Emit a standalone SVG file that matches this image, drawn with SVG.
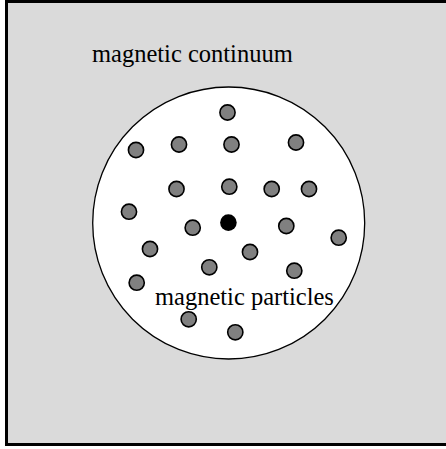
<svg xmlns="http://www.w3.org/2000/svg" width="446" height="449" viewBox="0 0 446 449">
<style>
.p{fill:#808080;stroke:#000;stroke-width:1.6}
.t{font-family:"Liberation Serif","Times New Roman",serif;font-size:24.5px;fill:#000}
</style>
<rect width="446" height="449" fill="#ffffff"/>
<g id="continuum">
<rect x="6.5" y="1.5" width="445" height="443" fill="#dadada" stroke="#000" stroke-width="3"/>
<text class="t" x="92" y="62">magnetic continuum</text>
</g>
<g id="region">
<circle cx="228.7" cy="223" r="136" fill="#fff" stroke="#000" stroke-width="1.3"/>
</g>
<g id="particles">
<circle class="p" cx="227.5" cy="112.5" r="7.6"/>
<circle class="p" cx="136" cy="150" r="7.6"/>
<circle class="p" cx="179" cy="144.5" r="7.6"/>
<circle class="p" cx="231.5" cy="144.5" r="7.6"/>
<circle class="p" cx="296" cy="142.5" r="7.6"/>
<circle class="p" cx="176.5" cy="189" r="7.6"/>
<circle class="p" cx="229.3" cy="186.7" r="7.6"/>
<circle class="p" cx="271.7" cy="189" r="7.6"/>
<circle class="p" cx="309" cy="189" r="7.6"/>
<circle class="p" cx="129" cy="211.7" r="7.6"/>
<circle class="p" cx="192.7" cy="227.7" r="7.6"/>
<circle class="p" cx="286.3" cy="226" r="7.6"/>
<circle class="p" cx="338.7" cy="237.7" r="7.6"/>
<circle class="p" cx="150" cy="249" r="7.6"/>
<circle class="p" cx="250" cy="252" r="7.6"/>
<circle class="p" cx="209.3" cy="267.3" r="7.6"/>
<circle class="p" cx="294.3" cy="270.7" r="7.6"/>
<circle class="p" cx="136.7" cy="282.7" r="7.6"/>
<circle class="p" cx="188.7" cy="319.3" r="7.6"/>
<circle class="p" cx="235.3" cy="332.3" r="7.6"/>
</g>
<g id="center-particle">
<circle cx="228.4" cy="222.6" r="8.3" fill="#000"/>
</g>
<g id="label-particles">
<text class="t" x="155" y="305">magnetic particles</text>
</g>
</svg>
